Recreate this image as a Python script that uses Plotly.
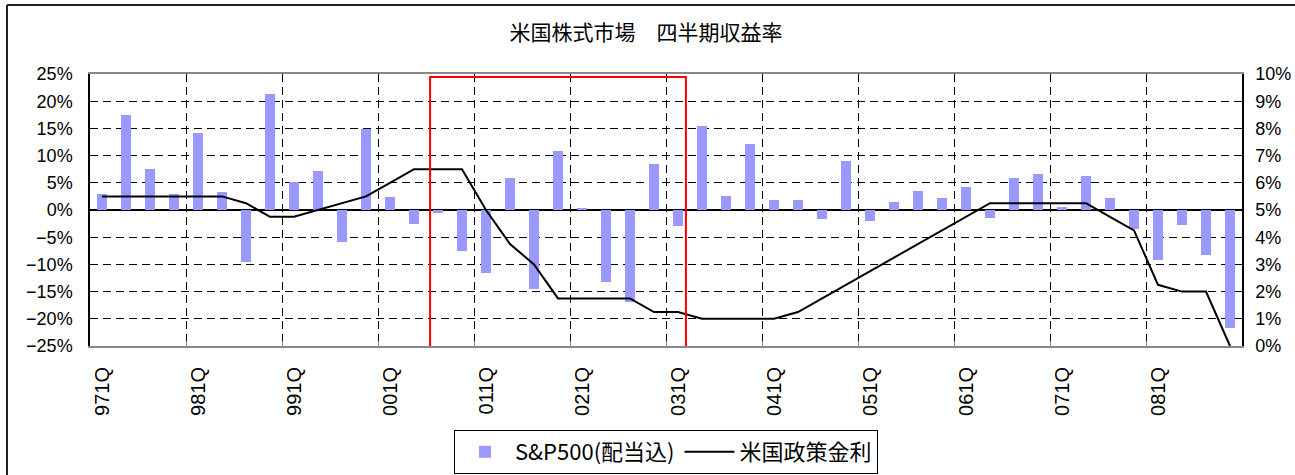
import plotly.graph_objects as go

# Quarter labels 97-1Q ... 08-4Q
years = ["97", "98", "99", "00", "01", "02", "03", "04", "05", "06", "07", "08"]
quarters = [f"{y}{q}Q" for y in years for q in (1, 2, 3, 4)]

# S&P500 quarterly total return (dividends included), %
sp500_return = [
    3.0, 17.4, 7.5, 2.9,
    14.1, 3.3, -9.6, 21.4,
    5.2, 7.2, -5.9, 14.8,
    2.3, -2.6, -0.6, -7.5,
    -11.6, 5.9, -14.5, 10.8,
    0.2, -13.2, -17.0, 8.5,
    -3.0, 15.4, 2.6, 12.1,
    1.9, 1.9, -1.7, 9.1,
    -2.1, 1.5, 3.5, 2.2,
    4.2, -1.4, 5.8, 6.7,
    0.6, 6.2, 2.2, -3.4,
    -9.2, -2.7, -8.3, -21.6,
]

# US policy rate (FF target) at quarter end, %
policy_rate = [
    5.5, 5.5, 5.5, 5.5,
    5.5, 5.5, 5.25, 4.75,
    4.75, 5.0, 5.25, 5.5,
    6.0, 6.5, 6.5, 6.5,
    5.0, 3.75, 3.0, 1.75,
    1.75, 1.75, 1.75, 1.25,
    1.25, 1.0, 1.0, 1.0,
    1.0, 1.25, 1.75, 2.25,
    2.75, 3.25, 3.75, 4.25,
    4.75, 5.25, 5.25, 5.25,
    5.25, 5.25, 4.75, 4.25,
    2.25, 2.0, 2.0, 0.0,
]

# highlighted span: 003Q .. 031Q
highlight_from, highlight_to = "003Q", "031Q"

x_idx = list(range(len(quarters)))
label_idx = x_idx[::4]
label_txt = quarters[::4]
year_bounds = [i - 0.5 for i in label_idx[1:]]

num_font = "Liberation Sans, Arial"
cjk_font = "Noto Sans CJK JP"

fig = go.Figure()
fig.add_trace(go.Bar(
    x=x_idx, y=sp500_return, name="S&P500(配当込)",
    marker=dict(color="#9999FF", line=dict(width=0)),
    width=0.42, yaxis="y",
))
fig.add_trace(go.Scatter(
    x=x_idx, y=policy_rate, name="米国政策金利", mode="lines",
    line=dict(color="black", width=2), yaxis="y2",
))

h0 = quarters.index(highlight_from) - 0.33
h1 = quarters.index(highlight_to) + 0.33
fig.add_shape(type="rect", xref="x", yref="y", x0=h0, x1=h1, y0=-25.55, y1=24.45,
              line=dict(color="#FF0000", width=2), fillcolor="rgba(0,0,0,0)", layer="above")

# outer chart frame (top and left edges)
fx = (7 - 90) / 1152
fy = (346 - 5) / 272
fig.add_shape(type="line", xref="paper", yref="paper", x0=fx, x1=1.2, y0=fy, y1=fy,
              line=dict(color="#222", width=2))
fig.add_shape(type="line", xref="paper", yref="paper", x0=fx, x1=fx, y0=fy, y1=-0.6,
              line=dict(color="#222", width=2))

fig.update_layout(
    width=1295, height=475,
    margin=dict(l=90, r=53, t=74, b=129, autoexpand=False),
    paper_bgcolor="white", plot_bgcolor="white",
    showlegend=True,
    bargap=0,
    title=dict(text="米国株式市場　四半期収益率", x=646 / 1295, xanchor="center",
               y=1 - 33 / 475, yanchor="middle", yref="container",
               font=dict(family=cjk_font, size=21, color="black"),
               automargin=False),
    xaxis=dict(
        range=[-0.5, len(quarters) - 0.5], automargin=False,
        tickmode="array", tickvals=label_idx, ticktext=label_txt,
        tickangle=-90, ticks="", showgrid=False, zeroline=False,
        tickfont=dict(family="Liberation Sans, Arial", size=20, color="black"),
        ticklabelstandoff=11,
        showline=True, linecolor="#888", linewidth=2, mirror=True,
        minor=dict(tickmode="array", tickvals=year_bounds, showgrid=True,
                   gridcolor="black", griddash="8px,5px", gridwidth=1,
                   ticks="inside", ticklen=5, tickcolor="#888"),
    ),
    yaxis=dict(
        range=[-25, 25], dtick=5, ticksuffix="%", automargin=False,
        showgrid=True, gridcolor="black", griddash="8px,5px", gridwidth=1,
        zeroline=True, zerolinecolor="black", zerolinewidth=2,
        showline=True, linecolor="black", linewidth=1.5,
        ticks="inside", ticklen=7, tickcolor="black",
        tickfont=dict(family=num_font, size=18, color="black"),
        ticklabelstandoff=12,
    ),
    yaxis2=dict(
        range=[0, 10], dtick=1, ticksuffix="%", overlaying="y", side="right",
        automargin=False,
        showgrid=False, zeroline=False,
        showline=True, linecolor="black", linewidth=1.5,
        ticks="inside", ticklen=7, tickcolor="black",
        tickfont=dict(family=num_font, size=18, color="black"),
        ticklabelstandoff=8,
    ),
    legend=dict(
        orientation="h", x=(666 - 90) / 1152, xanchor="center",
        y=(346 - 452) / 272, yanchor="middle",
        bordercolor="black", borderwidth=1, bgcolor="white",
        font=dict(family=cjk_font, size=22, color="black"),
        itemwidth=50, traceorder="normal",
    ),
)

fig.write_html("out.html")
